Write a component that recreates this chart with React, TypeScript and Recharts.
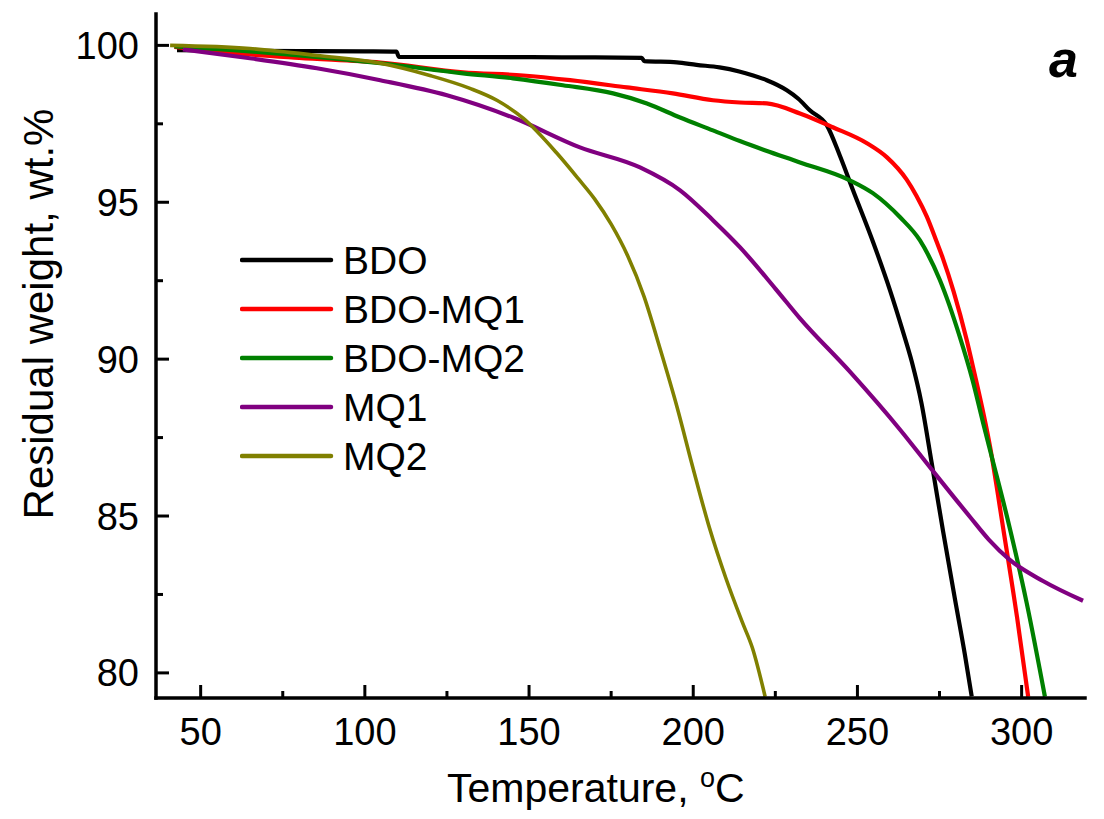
import React from 'react';
import { LineChart, Line, XAxis, YAxis, Legend, Label, Customized } from 'recharts';

const FONT = '"Liberation Sans", Arial, Helvetica, sans-serif';

// temperature (°C) and residual weight (wt.%)
const bdoT = [42.8, 60, 80, 100, 109.6, 110.4, 130, 160, 184.3, 185.1, 195, 201, 208, 214, 218, 222.4, 228.5, 232, 235.5, 240.7, 244.6, 248.6, 254.7, 259.9, 263.8, 266.6, 269.5, 272.6, 276.1, 279.7, 282.7, 284.8];
const bdoW = [99.85, 99.83, 99.82, 99.81, 99.8, 99.63, 99.63, 99.62, 99.6, 99.5, 99.46, 99.38, 99.3, 99.17, 99.05, 98.89, 98.57, 98.3, 97.93, 97.45, 96.5, 95.4, 93.75, 92.2, 90.9, 89.9, 88.6, 86.7, 84.5, 82.35, 80.6, 79.25];

const mq1bT = [42, 60, 80, 104.7, 129.9, 148.2, 162.5, 179.8, 193.8, 206, 214.2, 222.4, 232.5, 242.5, 252.9, 259, 265, 268, 271.1, 274.1, 276, 279.3, 283.3, 285.2, 290.4, 294.4, 298.6, 302];
const mq1bW = [99.95, 99.75, 99.6, 99.45, 99.14, 99.04, 98.89, 98.66, 98.47, 98.25, 98.18, 98.15, 97.83, 97.39, 96.88, 96.43, 95.72, 95.2, 94.55, 93.75, 93.22, 92.15, 90.6, 89.75, 87.2, 84.6, 81.78, 79.24];

const mq2bT = [42, 60, 80, 104.7, 129.9, 145.1, 160.3, 175.6, 185.9, 196, 206, 214.2, 222, 232.5, 247.7, 254.7, 263, 269, 275.1, 281.2, 285, 288.2, 291, 295.5, 301.6, 307.1];
const mq2bW = [99.97, 99.85, 99.68, 99.43, 99.11, 98.95, 98.73, 98.47, 98.15, 97.7, 97.29, 96.95, 96.65, 96.27, 95.7, 95.29, 94.52, 93.79, 92.52, 90.7, 89.35, 88.0, 86.85, 85.0, 82.2, 79.24];

const mq1T = [44.6, 65, 85.4, 104.7, 125, 145.1, 165.5, 183.8, 196, 206, 214.2, 225, 232.5, 247.7, 263, 272.5, 284.3, 290, 296.4, 306.5, 318.7];
const mq1W = [99.87, 99.59, 99.27, 98.89, 98.41, 97.7, 96.75, 96.11, 95.38, 94.43, 93.57, 92.25, 91.3, 89.6, 87.75, 86.5, 84.97, 84.25, 83.6, 82.93, 82.3];

const mq2T = [40.7, 65, 85.4, 104.7, 119.8, 132, 140.2, 148.2, 158.5, 165, 170, 175, 180, 185, 190, 195, 200, 205, 210, 215, 218, 221.9];
const mq2W = [100, 99.9, 99.68, 99.43, 99.04, 98.63, 98.25, 97.68, 96.56, 95.75, 95.1, 94.3, 93.3, 92.0, 90.3, 88.5, 86.5, 84.6, 83.0, 81.6, 80.8, 79.24];

const xTicks = [50, 75, 100, 125, 150, 175, 200, 225, 250, 275, 300];
const yTicks = [80, 82.5, 85, 87.5, 90, 92.5, 95, 97.5, 100];

const toPoints = (t: number[], w: number[]) => t.map((v, i) => ({ t: v, w: w[i] }));

const series = [
  { name: 'BDO', color: '#000000', data: toPoints(bdoT, bdoW), width: 4.2 },
  { name: 'BDO-MQ1', color: '#FF0000', data: toPoints(mq1bT, mq1bW), width: 4.2 },
  { name: 'BDO-MQ2', color: '#008000', data: toPoints(mq2bT, mq2bW), width: 4.2 },
  { name: 'MQ1', color: '#800080', data: toPoints(mq1T, mq1W), width: 4.2 },
  { name: 'MQ2', color: '#808000', data: toPoints(mq2T, mq2W), width: 3.6 },
];

// ticks point inward, labels sit outside; minor ticks get no label
function XTick({ x, y, payload }: any) {
  const major = payload.value % 50 === 0;
  return (
    <g>
      <line x1={x} x2={x} y1={y} y2={y - (major ? 13 : 7)} stroke="#000" strokeWidth={3} />
      {major && (
        <text x={x} y={y + 47} textAnchor="middle" fontSize={38} fill="#000">
          {payload.value}
        </text>
      )}
    </g>
  );
}

function YTick({ x, y, payload }: any) {
  const major = payload.value % 5 === 0;
  return (
    <g>
      <line x1={x} x2={x + (major ? 13 : 7)} y1={y} y2={y} stroke="#000" strokeWidth={3} />
      {major && (
        <text x={x - 17} y={y + 13.5} textAnchor="end" fontSize={38} fill="#000">
          {payload.value}
        </text>
      )}
    </g>
  );
}

function XTitle({ viewBox }: any) {
  const { x, y } = viewBox;
  return (
    <text x={x + 291} y={y + 104} fontSize={41} fill="#000">
      Temperature, <tspan dy={-15} fontSize={27}>o</tspan>
      <tspan dy={15}>C</tspan>
    </text>
  );
}

function YTitle() {
  const cx = 53;
  const cy = 314;
  return (
    <text transform={`rotate(-90 ${cx} ${cy})`} x={cx} y={cy} textAnchor="middle" fontSize={42} fill="#000">
      Residual weight, wt.%
    </text>
  );
}

function LegendBox({ payload }: any) {
  return (
    <svg width={340} height={250}>
      {(payload || []).map((p: any, i: number) => {
        const cy = 24 + i * 49;
        return (
          <g key={p.value}>
            <line x1={2} x2={91} y1={cy} y2={cy} stroke={p.color} strokeWidth={4.5} strokeLinecap="round" />
            <text x={103} y={cy + 14} fontSize={39} fill="#000">
              {p.value}
            </text>
          </g>
        );
      })}
    </svg>
  );
}

export default function App() {
  return (
    <div style={{ position: 'absolute', left: 0, top: 0, width: 1104, height: 819, background: '#fff', fontFamily: FONT }}>
      <LineChart width={1104} height={819} margin={{ top: 14, right: 19, bottom: 0, left: 0 }}>
        <XAxis
          dataKey="t"
          type="number"
          domain={[36.4, 319.3]}
          allowDataOverflow
          ticks={xTicks}
          interval={0}
          height={121}
          tickSize={0}
          tickMargin={0}
          tick={<XTick />}
          tickLine={false}
          axisLine={{ stroke: '#000', strokeWidth: 3.5, strokeLinecap: 'square' }}
        >
          <Label content={<XTitle />} />
        </XAxis>
        <YAxis
          type="number"
          domain={[79.2, 101]}
          allowDataOverflow
          ticks={yTicks}
          interval={0}
          width={156}
          tickSize={0}
          tickMargin={0}
          tick={<YTick />}
          tickLine={false}
          axisLine={{ stroke: '#000', strokeWidth: 3.5, strokeLinecap: 'square' }}
        >
          <Label content={<YTitle />} />
        </YAxis>
        <Legend
          content={<LegendBox />}
          layout="horizontal"
          verticalAlign="middle"
          align="center"
          wrapperStyle={{ left: 240, top: 236, width: 340, height: 250 }}
        />
        {series.map((s) => (
          <Line
            key={s.name}
            name={s.name}
            data={s.data}
            dataKey="w"
            type="monotone"
            stroke={s.color}
            strokeWidth={s.width}
            dot={false}
            activeDot={false}
            legendType="line"
            isAnimationActive={false}
          />
        ))}
        <Customized
          component={() => (
            <text x={1049} y={77} fontSize={52} fontWeight="bold" fontStyle="italic" fill="#000">
              a
            </text>
          )}
        />
      </LineChart>
    </div>
  );
}
